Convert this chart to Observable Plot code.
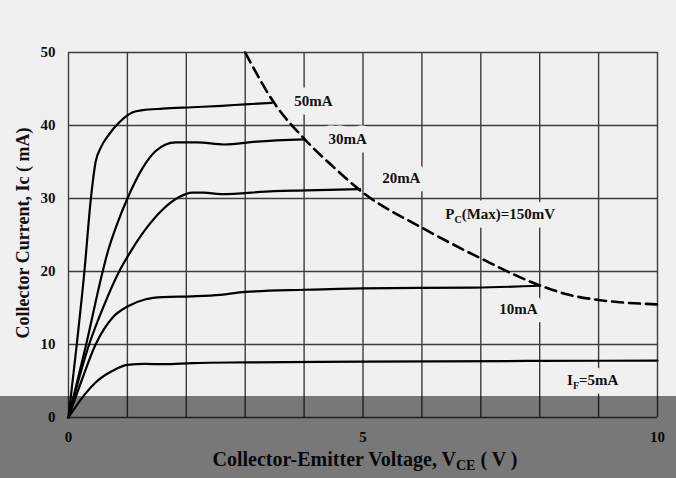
<!DOCTYPE html>
<html>
<head>
<meta charset="utf-8">
<script src="https://cdn.jsdelivr.net/npm/d3@7"></script>
<script src="https://cdn.jsdelivr.net/npm/@observablehq/plot@0.6"></script>
<style>
  html, body { margin: 0; padding: 0; background: #f0f0f0; }
  #wrap { position: relative; width: 676px; height: 478px; overflow: hidden; }
  #shade { position: absolute; left: 0; top: 396px; width: 676px; height: 82px; background: rgba(0,0,0,0.5); pointer-events: none; }
</style>
</head>
<body>
<div id="wrap"><div id="chart"></div><div id="shade"></div></div>
<script>
// Output characteristic curves: [Vce (V), Ic (mA)]
const curve50mA = [[0,0],[0.14,10],[0.27,20],[0.38,30],[0.46,35],[0.55,37],[0.69,38.8],[0.86,40.4],[1.09,41.8],[1.26,42.1],[1.6,42.3],[2.1,42.5],[2.6,42.7],[3.0,42.9],[3.45,43.1]];
const curve30mA = [[0,0],[0.3,10],[0.58,20],[0.66,22.5],[0.83,26.6],[1.0,30],[1.26,34.2],[1.48,36.5],[1.65,37.4],[1.82,37.7],[2.18,37.7],[2.64,37.4],[3.2,37.8],[4.0,38.1]];
const curve20mA = [[0,0],[0.35,10],[0.6,15.3],[0.86,20],[1.06,22.8],[1.31,25.8],[1.6,28.5],[1.88,30.2],[2.1,30.8],[2.3,30.8],[2.58,30.6],[3.49,31],[4.05,31.1],[4.95,31.3]];
const curve10mA = [[0,0],[0.22,5],[0.46,10],[0.75,13.7],[1.0,15.2],[1.31,16.2],[1.6,16.5],[2.1,16.6],[2.58,16.8],[3.0,17.2],[4.0,17.5],[5.0,17.7],[6.9,17.8],[8.0,18.05]];
const curve5mA  = [[0,0],[0.28,3.2],[0.46,4.8],[0.75,6.4],[1.0,7.2],[1.3,7.35],[1.62,7.3],[2.1,7.45],[3.0,7.55],[5.0,7.65],[8.0,7.75],[10,7.8]];
// Maximum collector power dissipation boundary
const pcMax = [[3.0,50],[3.5,43],[4.0,38.2],[4.5,34.3],[5.0,30.8],[6.0,26],[7.0,21.8],[8.0,18.1],[8.5,16.8],[9.0,16.1],[10,15.5]];

const xGrid = [0,1,2,3,4,5,6,7,8,9,10];
const yGrid = [0,10,20,30,40,50];
const xTicks = [0,5,10];
const yTicks = [0,10,20,30,40,50];

const labelText = ["50mA","30mA","20mA","P_C(Max)=150mV","10mA","I_F=5mA"];
const labelX = [4.16,4.74,5.65,7.33,7.64,8.9];
const labelY = [43.3,38.1,32.8,27.8,14.9,5.1];

const xTitle = ["Collector-Emitter Voltage, V","CE"," ( V )"];
const yTitle = "Collector Current, Ic ( mA)";

const curveRows = [
  ["50mA", curve50mA], ["30mA", curve30mA], ["20mA", curve20mA], ["10mA", curve10mA], ["5mA", curve5mA]
].flatMap(([s, pts]) => pts.map(([x, y]) => ({series: s, x, y})));
const pcRows = pcMax.map(([x, y]) => ({x, y}));
const labels = labelText.map((t, i) => ({text: t, x: labelX[i], y: labelY[i]}));

const bg = "#f0f0f0";
const chart = Plot.plot({
  width: 676, height: 478,
  marginLeft: 68, marginRight: 19, marginTop: 52, marginBottom: 61,
  x: {domain: [0, 10]},
  y: {domain: [0, 50]},
  style: {background: bg, fontFamily: "'Liberation Serif', 'Times New Roman', serif", fontSize: "15px", fontWeight: "bold", color: "#111"},
  marks: [
    Plot.ruleX(xGrid, {stroke: "#3c3c3c", strokeWidth: 1.4}),
    Plot.ruleY(yGrid, {stroke: "#3c3c3c", strokeWidth: 1.4}),
    Plot.axisY(yTicks, {tickSize: 0, tickPadding: 13, label: null, fontWeight: "bold"}),
    Plot.axisX(xTicks, {tickSize: 0, tickPadding: 14, label: null, fontWeight: "bold"}),
    Plot.text(labels, {x: "x", y: "y", text: "text", fill: bg, stroke: bg, strokeWidth: 17,
      strokeLinejoin: "round", fontWeight: "bold", fontSize: 15, className: "label-halo"}),
    Plot.text(labels, {x: "x", y: "y", text: "text", fill: "#111", fontWeight: "bold", fontSize: 15, className: "curve-labels"}),
    Plot.line(curveRows, {x: "x", y: "y", z: "series", curve: "monotone-x", stroke: "#000", strokeWidth: 2.2}),
    Plot.line(pcRows, {x: "x", y: "y", curve: "monotone-x", stroke: "#000", strokeWidth: 2.6, strokeDasharray: "11,6"})
  ]
});
document.getElementById("chart").appendChild(chart);

const svg = d3.select(chart);
// subscripts in labels
svg.selectAll(".curve-labels text, .label-halo text").each(function () {
  const t = d3.select(this).text();
  const m = t.match(/^(.)_(.)(.*)$/);
  if (!m) return;
  const el = d3.select(this).text(null);
  el.append("tspan").text(m[1]);
  el.append("tspan").attr("dy", 4).attr("font-size", 10).text(m[2]);
  el.append("tspan").attr("dy", -4).text(m[3]);
});
// axis titles
const xt = svg.append("text").attr("x", 365).attr("y", 466).attr("text-anchor", "middle")
  .attr("font-size", 20).attr("font-weight", "bold").attr("fill", "#111");
xt.append("tspan").text(xTitle[0]);
xt.append("tspan").attr("dy", 4).attr("font-size", 14).text(xTitle[1]);
xt.append("tspan").attr("dy", -4).text(xTitle[2]);
svg.append("text").attr("transform", "translate(29,233) rotate(-90)").attr("text-anchor", "middle")
  .attr("font-size", 18).attr("font-weight", "bold").attr("fill", "#111").text(yTitle);
</script>
</body>
</html>
